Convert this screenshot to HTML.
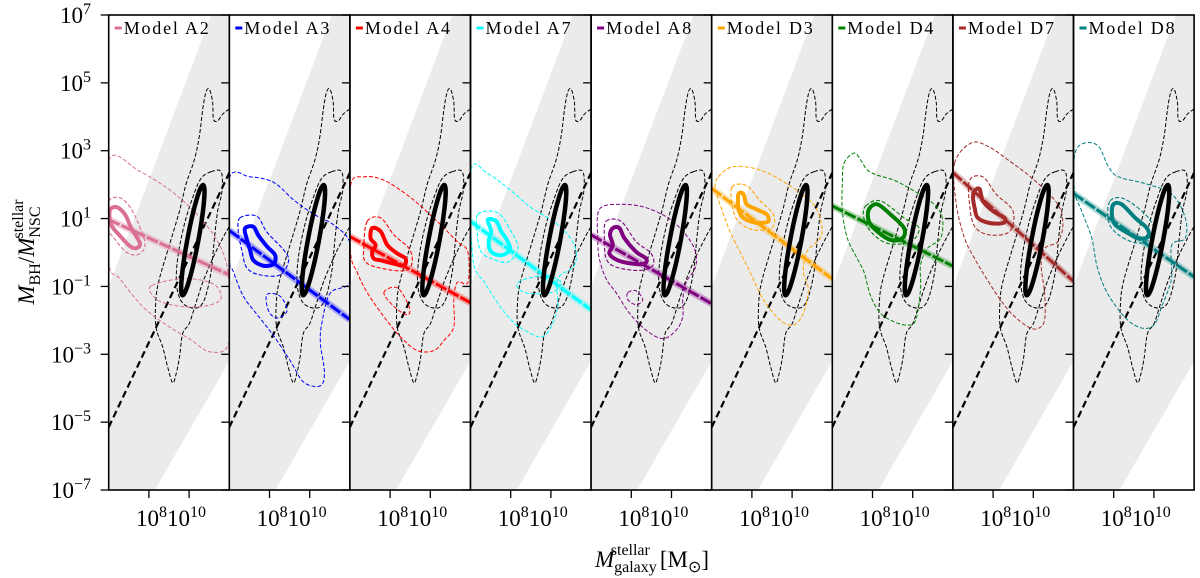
<!DOCTYPE html>
<html><head><meta charset="utf-8"><style>
html,body{margin:0;padding:0;background:#fff;}
svg{display:block;font-family:"Liberation Serif",serif;}
</style></head><body>
<svg id="chart" width="1200" height="578" viewBox="0 0 1200 578" xmlns="http://www.w3.org/2000/svg"></svg>
<script>
// ---------- data ----------
const modelNames = ["Model A2","Model A3","Model A4","Model A7","Model A8","Model D3","Model D4","Model D7","Model D8"];
const modelColors = ["#db7093","#0000ff","#ff0000","#00ffff","#800080","#ffa500","#008000","#a52a2a","#008080"];
const fitY6  = [0.97, 0.65, 0.47, 0.92, 0.52, 1.89, 1.37, 2.36, 1.74];
const fitY12 = [-0.66,-1.98,-1.48,-1.69,-1.51,-0.78,-0.40,-0.85,-0.72];
const yTickExps = [7,5,3,1,-1,-3,-5,-7];
const xTickExps = [8,10];
const bandPoly = [[6,-1],[11.1,7],[12,7],[12,-3.2],[8.3,-7],[6,-7]];
const relX = [6, 12];
const relY = [-5.15, 2.35];
const obsEllipseTop = [10.7, 1.99];
const obsEllipseBottom = [9.67, -1.26];
const obsOuter = [[12,4.23],[11.67,4.08],[11.42,3.88],[11.21,3.93],[11.17,4.43],[11.01,4.81],[10.84,4.73],[10.68,4.23],[10.51,3.43],[10.26,2.73],[9.85,2.02],[9.52,1.22],[9.02,0.22],[8.52,-0.78],[8.35,-1.38],[8.35,-2.19],[8.69,-2.79],[8.94,-3.39],[9.18,-3.84],[9.35,-3.59],[9.52,-3.09],[9.68,-2.39],[10.01,-2.09],[10.34,-1.49],[10.68,-0.88],[11.17,-0.18],[11.67,0.42],[12.05,0.82]];
const obsInner = [[11.09,2.38],[11.59,2.38],[11.64,1.82],[11.42,1.22],[11.26,0.42],[11.09,-0.58],[10.76,-1.39],[10.34,-1.64],[9.68,-1.49],[9.38,-0.98],[9.43,-0.18],[9.76,0.82],[10.18,1.62],[10.59,2.18]];
const modelBlobs = [
 [[6.05,1.23],[6.38,1.34],[6.8,1.13],[7.13,0.71],[7.55,0.28],[7.38,0.13],[7.05,0.19],[6.55,0.5],[6.13,0.81]],
 [[6.78,0.71],[7.2,0.76],[7.45,0.5],[7.87,0.18],[8.28,-0.08],[8.2,-0.34],[7.7,-0.39],[7.2,-0.23],[7.03,0.08],[6.87,0.39]],
 [[7.11,0.72],[7.53,0.62],[7.86,0.22],[8.36,-0.03],[8.77,-0.18],[8.69,-0.38],[8.19,-0.33],[7.53,-0.23],[7.19,-0.18],[7.11,0.02],[7.28,0.22],[7.03,0.42]],
 [[6.86,0.97],[7.28,0.92],[7.53,0.62],[7.86,0.32],[7.95,0.07],[7.53,-0.08],[7.03,0.02],[6.9,0.32],[7.03,0.62]],
 [[7.08,0.72],[7.41,0.72],[7.66,0.42],[8.24,0.02],[8.74,-0.18],[8.65,-0.33],[8.07,-0.33],[7.33,-0.23],[6.91,-0.03],[7.08,0.22],[6.94,0.52]],
 [[7.33,1.72],[7.58,1.72],[7.74,1.42],[8.24,1.27],[8.74,1.12],[8.82,0.92],[8.41,0.87],[7.91,0.92],[7.49,1.07],[7.33,1.32]],
 [[7.82,1.27],[8.24,1.42],[8.9,1.12],[9.57,0.72],[9.49,0.42],[8.9,0.37],[8.24,0.62],[7.82,0.92]],
 [[7.08,1.82],[7.33,1.87],[7.49,1.52],[7.99,1.22],[8.57,1.02],[8.49,0.87],[7.82,0.87],[7.24,1.02],[7.08,1.32],[7.0,1.62]],
 [[7.99,1.42],[8.4,1.42],[9.07,1.02],[9.65,0.72],[9.73,0.47],[9.24,0.42],[8.57,0.62],[8.07,0.82],[7.91,1.12]]
];
const modelInner = [
 [[6.0,1.5],[6.6,1.6],[7.2,1.2],[7.8,0.3],[7.5,-0.05],[6.9,0.0],[6.3,0.4],[6.0,0.7]],
 [[6.53,1.02],[7.37,1.07],[7.87,0.6],[8.7,0.08],[8.95,-0.24],[8.53,-0.66],[7.53,-0.66],[6.87,-0.45],[6.62,0.08],[6.45,0.6]],
 [[6.86,0.92],[7.53,1.02],[8.19,0.52],[8.94,0.12],[9.1,-0.28],[8.77,-0.53],[7.69,-0.48],[6.78,-0.28],[6.7,0.22]],
 [[6.36,1.12],[7.36,1.17],[8.02,0.62],[8.36,0.12],[7.86,-0.28],[7.03,-0.18],[6.53,0.02],[6.36,0.42]],
 [[6.75,0.92],[7.49,0.92],[8.24,0.32],[8.99,-0.03],[9.07,-0.38],[8.4,-0.53],[7.24,-0.43],[6.75,-0.18],[6.66,0.42]],
 [[7.0,1.92],[7.74,1.97],[8.41,1.52],[9.07,1.12],[8.99,0.72],[8.07,0.67],[7.41,0.87],[7.08,1.22]],
 [[7.66,1.37],[8.4,1.52],[9.57,1.02],[10.31,0.72],[9.9,0.32],[8.74,0.27],[7.91,0.62],[7.57,1.02]],
 [[6.83,2.13],[7.49,2.23],[8.15,1.72],[8.99,1.22],[8.82,0.62],[7.82,0.52],[7.08,0.77],[6.83,1.42]],
 [[7.82,1.52],[8.57,1.57],[9.73,1.02],[9.98,0.52],[9.24,0.27],[8.24,0.52],[7.74,0.92]]
];
const modelOuter = [
 [[6,2.71],[7.55,2.39],[9.22,1.76],[10.55,1.02],[11.55,0.18],[11.97,-0.77],[11.97,-2.66],[11.05,-2.93],[10.05,-2.56],[8.88,-2.14],[7.72,-1.61],[6.55,-0.77],[6,-0.24]],
 [[6,2.18],[7.03,2.23],[8.2,2.07],[9.2,1.55],[10.2,1.13],[11.2,0.81],[12,0.28],[12,-0.87],[11.03,-1.19],[10.62,-2.03],[10.53,-2.66],[10.73,-3.51],[10.53,-3.93],[9.7,-3.82],[9.03,-3.19],[8.2,-2.45],[7.37,-1.82],[6.7,-1.29],[6.2,-0.56],[6,-0.14]],
 [[6.03,1.97],[6.7,2.23],[7.69,2.13],[9.02,1.62],[10.34,0.92],[11.34,0.32],[11.87,0.02],[11.87,-0.88],[11.34,-0.88],[11.17,-1.39],[11.17,-2.19],[10.68,-2.59],[10.18,-2.89],[9.35,-2.89],[8.52,-2.49],[7.69,-1.89],[6.86,-1.18],[6.36,-0.58],[6.03,0.02]],
 [[6.03,2.43],[6.86,2.33],[8.02,1.82],[9.02,1.32],[10.34,0.82],[11.17,0.22],[11.17,-0.38],[10.34,-0.78],[10.34,-1.59],[10.01,-2.19],[9.52,-2.49],[8.69,-2.29],[8.02,-1.99],[7.36,-1.49],[6.7,-0.88],[6.12,-0.18]],
 [[6.41,1.27],[7.41,1.42],[8.74,1.32],[10.06,0.92],[11.06,0.22],[11.22,-0.38],[10.73,-0.88],[10.56,-1.39],[10.56,-1.89],[10.23,-2.29],[9.57,-2.54],[8.74,-2.29],[7.91,-1.79],[7.24,-1.18],[6.75,-0.78],[6.41,-0.18],[6.33,0.42]],
 [[6.33,2.23],[7.08,2.53],[8.41,2.43],[9.73,2.03],[11.06,1.42],[11.47,0.82],[11.39,0.42],[10.73,0.02],[10.56,-0.58],[10.81,-1.08],[10.56,-1.79],[10.06,-2.14],[9.4,-1.99],[8.57,-1.39],[7.91,-0.58],[7.41,0.02],[6.91,0.62],[6.41,1.42],[6.17,1.92]],
 [[6.58,2.63],[7.08,2.93],[7.41,2.73],[7.74,2.43],[8.24,2.28],[9.07,2.13],[10.06,1.82],[11.06,1.42],[11.47,1.02],[11.39,0.42],[10.73,0.12],[10.39,-0.38],[10.39,-1.08],[10.15,-1.99],[9.73,-2.14],[9.07,-2.04],[8.4,-1.79],[7.91,-1.29],[7.58,-0.58],[7.24,-0.18],[6.75,0.42],[6.5,1.22],[6.5,2.03]],
 [[6.08,2.63],[6.91,3.23],[7.74,3.13],[8.74,2.73],[10.06,2.13],[11.22,1.42],[11.47,0.82],[11.22,0.32],[10.56,0.12],[10.39,-0.38],[10.56,-1.18],[10.56,-1.99],[10.23,-2.24],[9.73,-2.19],[8.9,-1.79],[8.24,-1.29],[7.58,-0.68],[7.08,-0.18],[6.58,0.42],[6.17,1.42]],
 [[6.08,2.93],[6.58,3.23],[7.24,3.13],[7.74,2.53],[8.24,2.23],[9.57,2.03],[10.89,1.72],[11.56,1.02],[11.56,0.42],[10.89,0.22],[10.89,-0.68],[10.73,-1.08],[10.39,-1.59],[10.06,-2.09],[9.57,-2.24],[8.9,-2.09],[8.24,-1.69],[7.58,-1.08],[7.16,-0.38],[6.91,0.42],[6.41,1.22],[6.05,1.82]]
];
const modelLoops = [
 [[8.13,-0.98],[9.72,-0.77],[11.22,-0.93],[11.55,-1.4],[10.38,-1.61],[8.88,-1.51],[8.22,-1.29]],
 [[7.87,-1.24],[8.53,-1.29],[8.87,-1.72],[8.37,-1.93],[7.95,-1.72]],
 [[7.69,-1.18],[8.36,-1.04],[8.94,-1.59],[8.86,-1.84],[8.19,-1.59]],
 [[8.36,-0.88],[9.69,-0.68],[10.51,-0.88],[10.01,-1.18],[8.69,-1.18]],
 [[7.83,-1.18],[8.24,-1.13],[8.57,-1.39],[8.24,-1.54],[7.83,-1.39]],
 [],[],[],[]
];

// ---------- axes ----------
const PX0=108.7, PW=120.6, PT=15, PB=490;
function sx(i,X){return PX0+i*PW+(X-6)/6*PW;}
function sy(Y){return PT+(7-Y)/14*(PB-PT);}
const NS="http://www.w3.org/2000/svg";
const svg=document.getElementById('chart');
function mk(tag,attrs,parent){const e=document.createElementNS(NS,tag);for(const k in attrs)e.setAttribute(k,attrs[k]);(parent||svg).appendChild(e);return e;}
function f(v){return v.toFixed(2);}
function smooth(pts,closed){
  const n=pts.length;if(n<2)return "";
  const g=k=>closed?pts[(k+n)%n]:pts[Math.max(0,Math.min(n-1,k))];
  let d="M"+f(pts[0][0])+","+f(pts[0][1]);
  const m=closed?n:n-1;
  for(let k=0;k<m;k++){
    const p0=g(k-1),p1=g(k),p2=g(k+1),p3=g(k+2);
    d+=" C"+f(p1[0]+(p2[0]-p0[0])/6)+","+f(p1[1]+(p2[1]-p0[1])/6)+" "+f(p2[0]-(p3[0]-p1[0])/6)+","+f(p2[1]-(p3[1]-p1[1])/6)+" "+f(p2[0])+","+f(p2[1]);
  }
  return d+(closed?" Z":"");
}
const defs=mk('defs',{});

for(let i=0;i<modelNames.length;i++){
  const L=sx(i,6), R=sx(i,12);
  const cp=mk('clipPath',{id:'clip'+i},defs);
  mk('rect',{x:L,y:PT,width:R-L,height:PB-PT},cp);
  const g=mk('g',{'clip-path':'url(#clip'+i+')'});
  
  
  const tp=p=>[sx(i,p[0]),sy(p[1])];
  const band=mk('polygon',{points:bandPoly.map(p=>tp(p).map(f).join(',')).join(' '),fill:'#ebebeb'},g);
  
  
  const oo=mk('path',{d:smooth(obsOuter.map(tp),false),fill:'none',stroke:'#000','stroke-width':1,'stroke-dasharray':'4,2'},g);
  
  
  const oi=mk('path',{d:smooth(obsInner.map(tp),true),fill:'none',stroke:'#000','stroke-width':1,'stroke-dasharray':'4,2'},g);
  
  
  const rl=mk('line',{x1:sx(i,relX[0]),y1:sy(relY[0]),x2:sx(i,relX[1]),y2:sy(relY[1]),stroke:'#000','stroke-width':2.2,'stroke-dasharray':'7,4'},g);
  
  
  const col=modelColors[i];
  const mo=mk('path',{d:smooth(modelOuter[i].map(tp),true),fill:'none',stroke:col,'stroke-width':1,'stroke-dasharray':'4,2'},g);
  
  
  if(modelLoops[i].length){
    const ml=mk('path',{d:smooth(modelLoops[i].map(tp),true),fill:'none',stroke:col,'stroke-width':1,'stroke-dasharray':'4,2'},g);
    
    
  }
  const mi=mk('path',{d:smooth(modelInner[i].map(tp),true),fill:'none',stroke:col,'stroke-width':1.1,'stroke-dasharray':'4,2'},g);
  
  
  const fb=mk('line',{x1:sx(i,6),y1:sy(fitY6[i]),x2:sx(i,12),y2:sy(fitY12[i]),stroke:col,'stroke-width':7,'stroke-opacity':0.3},g);
  
  
  const fl=mk('line',{x1:sx(i,6),y1:sy(fitY6[i]),x2:sx(i,12),y2:sy(fitY12[i]),stroke:col,'stroke-width':3,'stroke-dasharray':'12,2'},g);
  
  
  const mb=mk('path',{d:smooth(modelBlobs[i].map(tp),true),fill:'none',stroke:col,'stroke-width':4},g);
  
  
  const a=tp(obsEllipseTop), b=tp(obsEllipseBottom);
  const cx=(a[0]+b[0])/2, cy=(a[1]+b[1])/2;
  const rx=Math.hypot(a[0]-b[0],a[1]-b[1])/2;
  const ang=Math.atan2(a[1]-b[1],a[0]-b[0])*180/Math.PI;
  const el=mk('ellipse',{cx:f(cx),cy:f(cy),rx:f(rx),ry:5.5,transform:'rotate('+f(ang)+' '+f(cx)+' '+f(cy)+')',fill:'none',stroke:'#000','stroke-width':4.5},g);
  
  
  const fr=mk('rect',{x:L,y:PT,width:R-L,height:PB-PT,fill:'none',stroke:'#000','stroke-width':1.6});
  
  
  yTickExps.forEach(e=>{
    const t=mk('line',{x1:L-8,y1:sy(e),x2:L,y2:sy(e),stroke:'#000','stroke-width':1.3});
    
    
  });
  xTickExps.forEach(e=>{
    const t=mk('line',{x1:sx(i,e),y1:PB,x2:sx(i,e),y2:PB+8,stroke:'#000','stroke-width':1.3});
    
    
  });
  const xl=mk('text',{x:sx(i,9.1),y:526,'text-anchor':'middle','font-size':23});
  
  
  xl.innerHTML='<tspan>10</tspan><tspan dy="-9" font-size="16">'+xTickExps[0]+'</tspan><tspan dy="9">10</tspan><tspan dy="-9" font-size="16">'+xTickExps[1]+'</tspan>';
  const lg=mk('g',{});
  
  
  mk('line',{x1:L+6,y1:28,x2:L+13,y2:28,stroke:col,'stroke-width':3},lg);
  const lt=mk('text',{x:L+15,y:34,'font-size':18,'letter-spacing':1.8},lg);
  lt.textContent=modelNames[i];
}
yTickExps.forEach(e=>{
  const t=mk('text',{x:91,y:sy(e)+8,'text-anchor':'end','font-size':23});
  
  
  t.innerHTML='10<tspan dy="-9" font-size="16">'+(e<0?'\u2212'+(-e):e)+'</tspan>';
});
const yt=mk('text',{x:0,y:0,'text-anchor':'middle','font-size':23,'font-style':'italic',transform:'translate(34,252) rotate(-90)'});


yt.innerHTML='M<tspan dy="6" font-size="16" font-style="normal">BH</tspan><tspan dy="-6" font-style="normal">/</tspan>M<tspan dy="6" font-size="16" font-style="normal">NSC</tspan><tspan dx="-32" dy="-17" font-size="16" font-style="normal">stellar</tspan>';
const xt=mk('text',{x:652,y:567,'text-anchor':'middle','font-size':23});


xt.innerHTML='<tspan font-style="italic">M</tspan><tspan dy="5" font-size="16">galaxy</tspan><tspan dx="-46" dy="-17" font-size="16">stellar</tspan><tspan dx="10" dy="12">[M</tspan><tspan dy="5" font-size="16">\u2299</tspan><tspan dy="-5">]</tspan>';
</script>
</body></html>
